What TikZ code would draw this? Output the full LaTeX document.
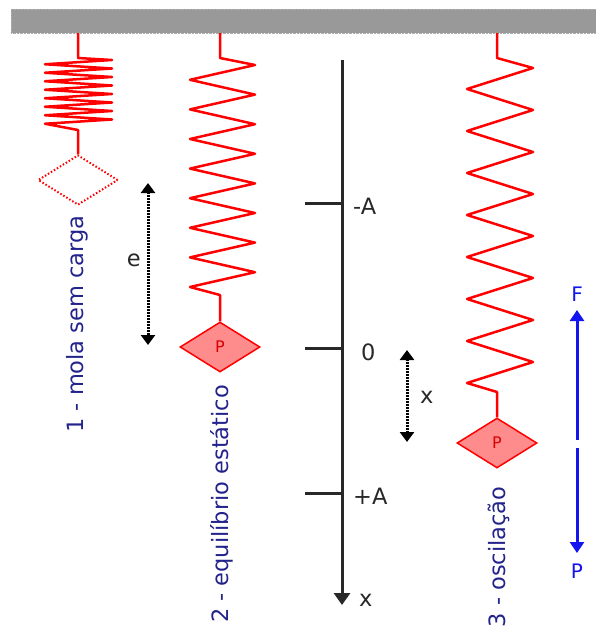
\documentclass[tikz,border=0pt]{standalone}
\usepackage{fontspec}
\setmainfont{DejaVu Sans}
\usetikzlibrary{positioning,shapes.geometric,arrows.meta}

\definecolor{ceilgrey}{RGB}{153,153,153}
\definecolor{springred}{RGB}{255,0,0}
\definecolor{weightfill}{RGB}{255,140,140}
\definecolor{labelblue}{RGB}{35,35,140}
\definecolor{forceblue}{RGB}{20,20,240}
\definecolor{axisgrey}{RGB}{40,40,40}

\begin{document}
\begin{tikzpicture}[
  x=1pt, y=-1pt,
  spring/.style={
    draw=springred,
    line width=2.5pt,
    line join=round,
  },
  weight/.style={
    diamond,
    draw=springred,
    line width=1.5pt,
    fill=weightfill,
    inner sep=0pt,
    minimum width=80pt,
    minimum height=50pt,
    text=red!85!black,
    font=\fontsize{16}{18}\selectfont,
  },
  free end/.style={
    weight,
    fill=none,
    dotted,
    line width=2pt,
  },
  stage label/.style={
    rotate=90,
    anchor=base,
    text=labelblue,
    inner sep=0pt,
    font=\fontsize{22.5}{26}\selectfont,
  },
  axis label/.style={
    anchor=west,
    inner sep=0pt,
    text=axisgrey,
    font=\fontsize{22.5}{26}\selectfont,
  },
  axis line/.style={
    draw=axisgrey,
    line width=3pt,
  },
  measure/.style={
    draw=black,
    line width=3pt,
    dash pattern=on 2pt off 1pt,
    {Triangle[width=14pt,length=10pt]}-{Triangle[width=14pt,length=10pt]},
  },
  force/.style={
    draw=forceblue,
    line width=3pt,
    -{Triangle[width=14pt,length=11pt]},
  },
  ]
  \useasboundingbox (0,0) rectangle (596,629);

  % ceiling
  \node[fill=ceilgrey, draw=ceilgrey!80!white, densely dotted, inner sep=0pt,
    minimum width=586pt, minimum height=24pt, anchor=north west]
    (ceiling) at (11,9) {};
  \coordinate (top1) at (78,33);
  \coordinate (top2) at (220,33);
  \coordinate (top3) at (497,33);

  % weights
  \node[free end] (w1) at (78,180) {};
  \node[weight]   (w2) at (220,347) {P};
  \node[weight]   (w3) at (497,443) {P};

  % springs
  \draw[spring] (top1) -- (78,58) -- (112,60)
    \foreach \i in {1,...,7} { -- ++(-67,4.25) -- ++(67,4.25) }
    -- ++(-67,4.25) -- (78,130) -- (w1.north);
  \draw[spring] (top2) -- (220,58) -- (255,65)
    \foreach \i in {1,...,7} { -- ++(-65,14.8) -- ++(65,14.8) }
    -- ++(-65,14.8) -- (220,295) -- (w2.north);
  \draw[spring] (top3) -- (497,58) -- (533,68)
    \foreach \i in {1,...,7} { -- ++(-66,21) -- ++(66,21) }
    -- ++(-66,21) -- (497,392) -- (w3.north);

  % stage labels
  \node[stage label] (s1) at (83,324) {1 - mola sem carga};
  \node[stage label] (s2) at (228,504) {2 - equilíbrio estático};
  \node[stage label] (s3) at (505,557) {3 - oscilação};

  % axis
  \coordinate (ax top) at (342,60);
  \coordinate (ax end) at (342,605);
  \draw[axis line, -{Triangle[width=16pt,length=12pt]}] (ax top) -- (ax end);
  \coordinate (tick mA) at (342,203);
  \coordinate (tick 0)  at (342,348);
  \coordinate (tick pA) at (342,493);
  \draw[axis line] (tick mA) -- ++(-37,0);
  \draw[axis line] (tick 0)  -- ++(-37,0);
  \draw[axis line] (tick pA) -- ++(-37,0);
  \node[axis label] (l mA) at (353,206) {-A};
  \node[axis label] (l 0)  at (361,352) {0};
  \node[axis label] (l pA) at (353,496) {+A};
  \node[axis label] (l x)  at (359,600) {x};

  % elongation and displacement
  \coordinate (e top) at (148,183);
  \coordinate (e bot) at (148,345);
  \draw[measure] (e top) -- (e bot);
  \node[axis label, anchor=east] (l e) at (141,260) {e};
  \coordinate (x top) at (407,350);
  \coordinate (x bot) at (407,442);
  \draw[measure] (x top) -- (x bot);
  \node[axis label] (l dx) at (420,397) {x};

  % forces
  \coordinate (f mid up) at (577,440);
  \coordinate (f mid dn) at (577,448);
  \coordinate (f tip) at (577,310);
  \coordinate (p tip) at (577,553);
  \draw[force] (f mid up) -- (f tip);
  \draw[force] (f mid dn) -- (p tip);
  \node[axis label, anchor=center, text=forceblue,
    font=\fontsize{20}{22}\selectfont] (l F) at (577,294) {F};
  \node[axis label, anchor=center, text=forceblue,
    font=\fontsize{20}{22}\selectfont] (l P) at (577,571) {P};
\end{tikzpicture}
\end{document}
